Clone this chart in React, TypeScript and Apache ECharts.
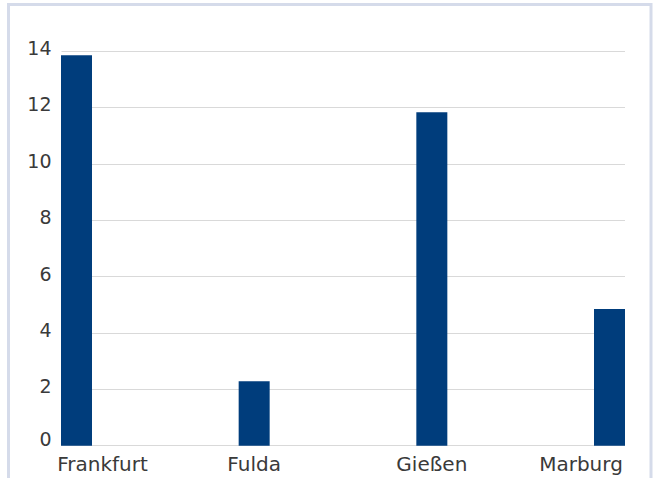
import React, { useEffect, useRef } from "react";
import * as echarts from "echarts";

const categories = ["Frankfurt", "Fulda", "Gießen", "Marburg"];
const values = [13.85, 2.29, 11.83, 4.85];
const yTicks = [0, 2, 4, 6, 8, 10, 12, 14];

const FONT = "DejaVu Sans";
const TEXT = "#3a3a3a";

export default function App() {
  const ref = useRef<HTMLDivElement>(null);
  useEffect(() => {
    if (!ref.current) return;
    const chart = echarts.init(ref.current, undefined, { renderer: "svg" });
    const yMin = yTicks[0];
    const yMax = yTicks[yTicks.length - 1];
    const step = yTicks[1] - yTicks[0];
    chart.setOption({
      animation: false,
      backgroundColor: "#ffffff",
      graphic: [
        {
          type: "rect",
          shape: { x: 8.5, y: 4.5, width: 642.5, height: 520 },
          style: { fill: "none", stroke: "#d5dbea", lineWidth: 3 },
          silent: true,
        },
      ],
      grid: [
        { left: 61.5, right: 31, top: 51, bottom: 32.3 },
        { left: 76.5, right: 46.5, top: 51, bottom: 32.3 },
      ],
      xAxis: [
        {
          gridIndex: 0,
          type: "category",
          data: categories,
          show: false,
        },
        {
          gridIndex: 1,
          type: "category",
          data: categories,
          boundaryGap: false,
          axisLine: { show: false },
          axisTick: { show: false },
          splitLine: { show: false },
          axisLabel: {
            interval: 0,
            margin: 8,
            color: TEXT,
            fontFamily: FONT,
            fontSize: 20,
            formatter: (v: string) => {
              if (v === categories[0]) return "{l|" + v + "}";
              if (v === categories[categories.length - 1]) return "{r|" + v + "}";
              return "{c|" + v + "}";
            },
            rich: {
              l: { padding: [0, 0, 0, 52], color: TEXT, fontFamily: FONT, fontSize: 20 },
              r: { padding: [0, 57, 0, 0], color: TEXT, fontFamily: FONT, fontSize: 20 },
              c: { color: TEXT, fontFamily: FONT, fontSize: 20 },
            },
          },
        },
      ],
      yAxis: [
        {
          gridIndex: 0,
          type: "value",
          min: yMin,
          max: yMax,
          interval: step,
          axisLine: { show: false },
          axisTick: { show: false },
          splitLine: { show: true, lineStyle: { color: "#d9d9d9", width: 1 } },
          axisLabel: {
            margin: 10,
            color: TEXT,
            fontFamily: FONT,
            fontSize: 19,
            formatter: (v: number) => (v === yMin ? "{z|" + v + "}" : "{n|" + v + "}"),
            rich: {
              n: { padding: [0, 0, 6, 0], color: TEXT, fontFamily: FONT, fontSize: 19 },
              z: { padding: [0, 0, 13, 0], color: TEXT, fontFamily: FONT, fontSize: 19 },
            },
          },
        },
        {
          gridIndex: 1,
          type: "value",
          min: yMin,
          max: yMax,
          interval: step,
          show: false,
          splitLine: { show: false },
        },
      ],
      series: [
        {
          type: "bar",
          xAxisIndex: 1,
          yAxisIndex: 1,
          data: values,
          barWidth: 31,
          itemStyle: { color: "#003d7c" },
        },
      ],
    });
    return () => chart.dispose();
  }, []);
  return (
    <div
      ref={ref}
      style={{ position: "absolute", left: 0, top: 0, width: 656, height: 478 }}
    />
  );
}
